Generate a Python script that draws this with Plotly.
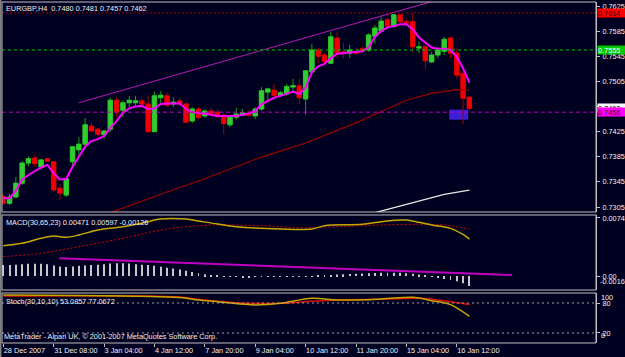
import plotly.graph_objects as go

# ---------------- data ----------------
symbol_title = "EURGBP,H4  0.7480 0.7481 0.7457 0.7462"
macd_title = "MACD(30,65,23) 0.00471 0.00597 -0.00126"
stoch_title = "Stoch(30,10,10) 53.0857 77.0672"
footer_text = "MetaTrader - Alpari UK, \u00a9 2001-2007 MetaQuotes Software Corp."

opens = [0.7322, 0.7311, 0.7321, 0.7343, 0.7375, 0.7383, 0.7369, 0.7382, 0.7377, 0.7335,
         0.7324, 0.7377, 0.7396, 0.7405, 0.7434, 0.7429, 0.7420, 0.7429, 0.7475, 0.7459,
         0.7471, 0.7471, 0.7474, 0.7469, 0.7425, 0.7479, 0.7482, 0.7469, 0.7474, 0.7469,
         0.7442, 0.7461, 0.7450, 0.7458, 0.7456, 0.7451, 0.7436, 0.7448, 0.7451, 0.7455,
         0.7450, 0.7461, 0.7488, 0.7491, 0.7483, 0.7485, 0.7496, 0.7498, 0.7477, 0.7520,
         0.7555, 0.7547, 0.7534, 0.7574, 0.7552, 0.7550, 0.7552, 0.7557, 0.7555, 0.7577,
         0.7585, 0.7603, 0.7592, 0.7611, 0.7600, 0.7600, 0.7558, 0.7560, 0.7536, 0.7547,
         0.7553, 0.7574, 0.7550, 0.7518, 0.7480]
highs = [0.7327, 0.7326, 0.7353, 0.7378, 0.7386, 0.7388, 0.7382, 0.7383, 0.7378, 0.7342,
         0.7351, 0.7402, 0.7416, 0.7447, 0.7439, 0.7431, 0.7428, 0.7479, 0.7480, 0.7475,
         0.7482, 0.7482, 0.7479, 0.7483, 0.7489, 0.7490, 0.7488, 0.7480, 0.7479, 0.7472,
         0.7464, 0.7464, 0.7460, 0.7464, 0.7461, 0.7455, 0.7451, 0.7463, 0.7461, 0.7460,
         0.7464, 0.7496, 0.7495, 0.7501, 0.7490, 0.7501, 0.7509, 0.7509, 0.7523, 0.7565,
         0.7558, 0.7550, 0.7584, 0.7584, 0.7566, 0.7563, 0.7558, 0.7561, 0.7582, 0.7595,
         0.7608, 0.7606, 0.7612, 0.7612, 0.7604, 0.7614, 0.7569, 0.7563, 0.7552, 0.7558,
         0.7576, 0.7576, 0.7558, 0.7523, 0.7481]
lows = [0.7308, 0.7308, 0.7319, 0.7340, 0.7370, 0.7369, 0.7364, 0.7377, 0.7329, 0.7316,
        0.7321, 0.7370, 0.7388, 0.7401, 0.7425, 0.7416, 0.7413, 0.7425, 0.7448, 0.7448,
        0.7464, 0.7466, 0.7467, 0.7423, 0.7424, 0.7471, 0.7464, 0.7464, 0.7466, 0.7439,
        0.7439, 0.7444, 0.7447, 0.7450, 0.7448, 0.7420, 0.7432, 0.7444, 0.7450, 0.7448,
        0.7445, 0.7458, 0.7475, 0.7480, 0.7480, 0.7482, 0.7487, 0.7469, 0.7452, 0.7518,
        0.7534, 0.7534, 0.7533, 0.7542, 0.7542, 0.7542, 0.7547, 0.7550, 0.7552, 0.7565,
        0.7584, 0.7592, 0.7592, 0.7598, 0.7595, 0.7552, 0.7550, 0.7525, 0.7534, 0.7542,
        0.7547, 0.7542, 0.7510, 0.7437, 0.7457]
closes = [0.7311, 0.7321, 0.7343, 0.7375, 0.7382, 0.7374, 0.7380, 0.7378, 0.7332, 0.7327,
          0.7350, 0.7401, 0.7405, 0.7436, 0.7426, 0.7421, 0.7426, 0.7475, 0.7456, 0.7471,
          0.7475, 0.7474, 0.7469, 0.7425, 0.7482, 0.7483, 0.7467, 0.7472, 0.7469, 0.7440,
          0.7461, 0.7448, 0.7458, 0.7453, 0.7449, 0.7438, 0.7448, 0.7453, 0.7455, 0.7451,
          0.7461, 0.7490, 0.7493, 0.7483, 0.7487, 0.7497, 0.7498, 0.7479, 0.7522, 0.7555,
          0.7545, 0.7537, 0.7576, 0.7550, 0.7549, 0.7555, 0.7550, 0.7554, 0.7579, 0.7590,
          0.7601, 0.7593, 0.7611, 0.7600, 0.7598, 0.7560, 0.7560, 0.7538, 0.7547, 0.7555,
          0.7572, 0.7550, 0.7515, 0.7478, 0.7462]

# fast moving average (magenta), one value per bar
ma_fast = [0.7319, 0.7319, 0.7331, 0.7349, 0.7356, 0.7362, 0.7368, 0.7372, 0.7359, 0.7349,
           0.7350, 0.7369, 0.7386, 0.7401, 0.7410, 0.7413, 0.7418, 0.7431, 0.7442, 0.7455,
           0.7462, 0.7465, 0.7466, 0.7461, 0.7462, 0.7469, 0.7470, 0.7470, 0.7470, 0.7461,
           0.7456, 0.7455, 0.7454, 0.7452, 0.7450, 0.7450, 0.7450, 0.7450, 0.7452, 0.7454,
           0.7458, 0.7469, 0.7474, 0.7479, 0.7482, 0.7486, 0.7489, 0.7485, 0.7495, 0.7520,
           0.7529, 0.7533, 0.7542, 0.7549, 0.7550, 0.7551, 0.7552, 0.7553, 0.7559, 0.7576,
           0.7585, 0.7591, 0.7593, 0.7596, 0.7596, 0.7588, 0.7575, 0.7567, 0.7559, 0.7557,
           0.7557, 0.7555, 0.7544, 0.7526, 0.7503]
# slow moving average (dark red), read at selected bars
ma_slow_bars = [17, 20, 24, 28, 32, 36, 40, 44, 48, 52, 56, 60, 64, 68, 70, 72, 74]
ma_slow = [0.7296, 0.7307, 0.7322, 0.7336, 0.7350, 0.7366, 0.7381, 0.7394, 0.7407,
           0.7423, 0.7439, 0.7457, 0.7475, 0.7486, 0.7489, 0.7492, 0.7491]
# longest moving average (white)
ma_long_bars = [59, 62, 66, 70, 74]
ma_long = [0.7296, 0.7304, 0.7315, 0.7325, 0.7332]

# upper channel trendline and rectangle object
trend_bars = [12, 68]
trend_prices = [0.7471, 0.7632]
box_bars = [70.8, 73.8]
box_prices = [0.7444, 0.7460]

# horizontal levels
level_red = 0.7614
level_green = 0.7555
level_magenta = 0.7456
bid_price = 0.7462

price_ticks = [0.7305, 0.7345, 0.7385, 0.7425, 0.7465, 0.7505, 0.7545, 0.7585, 0.7625]

time_labels = ["28 Dec 2007", "31 Dec 08:00", "3 Jan 04:00", "4 Jan 12:00", "7 Jan 20:00",
               "9 Jan 04:00", "10 Jan 12:00", "11 Jan 20:00", "15 Jan 04:00", "16 Jan 12:00"]
bars_per_label = 8

# MACD
macd_main_bars = [0, 3, 6, 8, 10, 12, 15, 19, 22, 25, 29, 31, 34, 37, 44, 49, 51, 57,
                  60, 63, 64, 66, 68, 71, 73, 74]
macd_main = [0.00387, 0.00417, 0.00481, 0.00510, 0.00494, 0.00523, 0.00587, 0.00629,
             0.00672, 0.00727, 0.00727, 0.00702, 0.00663, 0.00629, 0.00600, 0.00600,
             0.00642, 0.00660, 0.00693, 0.00714, 0.00714, 0.00685, 0.00651, 0.00608,
             0.00530, 0.00471]
macd_sig_bars = [0, 6, 12, 19, 25, 31, 34, 41, 47, 53, 60, 66, 70, 74]
macd_sig = [0.00247, 0.00290, 0.00374, 0.00481, 0.00587, 0.00642, 0.00651, 0.00642,
            0.00616, 0.00629, 0.00651, 0.00660, 0.00651, 0.00597]
macd_hist = [0.00140, 0.00140, 0.00145, 0.00150, 0.00155, 0.00155, 0.00155, 0.00150, 0.00135, 0.00120,
             0.00115, 0.00120, 0.00130, 0.00135, 0.00140, 0.00145, 0.00150, 0.00160, 0.00162, 0.00162,
             0.00158, 0.00150, 0.00145, 0.00140, 0.00130, 0.00118, 0.00106, 0.00095, 0.00082, 0.00068,
             0.00050, 0.00038, 0.00022, 0.00012, 0.00004, -0.00002, -0.00008, -0.00012, -0.00015, -0.00015,
             -0.00012, -0.00010, -0.00010, -0.00010, -0.00008, -0.00008, -0.00006, -0.00006, -0.00005, -0.00003,
             0.00002, 0.00008, 0.00012, 0.00018, 0.00022, 0.00026, 0.00030, 0.00032, 0.00035, 0.00038,
             0.00040, 0.00042, 0.00042, 0.00040, 0.00036, 0.00030, 0.00020, 0.00005, -0.00010, -0.00025,
             -0.00038, -0.00050, -0.00068, -0.00092, -0.00126]
macd_trend_bars = [8.9, 80.8]
macd_trend_vals = [0.00226, 0.00013]
macd_ticks = [0.0074, 0.0]
macd_tick_text = ["0.0074", "0.00"]
macd_min_label = "-0.00168"

# Stochastic
stoch_main_bars = [0, 19, 28, 31, 34, 40, 44, 49, 53, 60, 65, 68, 71, 74]
stoch_main = [96, 94, 91, 86, 82.7, 76, 79.3, 89.3, 86, 88, 91.3, 84.7, 76.7, 53.0857]
stoch_sig_bars = [0, 28, 31, 37, 44, 48, 53, 60, 66, 69, 74]
stoch_sig = [94, 92, 87.3, 80.7, 79.3, 82.7, 86, 87.3, 89.3, 86, 77.0672]
stoch_levels = [80, 20]

# ---------------- styling ----------------
BG = "#000020"
FRAME = "#c0c0c0"
TXT = "#f0f0f0"
FONT = "Liberation Sans"
FS = 7.3

bars = list(range(len(opens)))
body_hi = [max(o, c) for o, c in zip(opens, closes)]
body_lo = [min(o, c) for o, c in zip(opens, closes)]

fig = go.Figure()

# wicks
fig.add_trace(go.Candlestick(
    x=bars, open=opens, high=highs, low=lows, close=closes,
    increasing=dict(line=dict(color="#14a014", width=1), fillcolor="#14a014"),
    decreasing=dict(line=dict(color="#a00000", width=1), fillcolor="#a00000"),
    whiskerwidth=0, hoverinfo="skip", xaxis="x", yaxis="y"))
# bodies
fig.add_trace(go.Candlestick(
    x=bars, open=opens, high=body_hi, low=body_lo, close=closes,
    increasing=dict(line=dict(color="#30cc30", width=0.6), fillcolor="#30cc30"),
    decreasing=dict(line=dict(color="#f00000", width=0.6), fillcolor="#f00000"),
    whiskerwidth=0, hoverinfo="skip", xaxis="x", yaxis="y"))

fig.add_trace(go.Scatter(x=ma_slow_bars, y=ma_slow, mode="lines",
                         line=dict(color="#9a0000", width=1.2), yaxis="y"))
fig.add_trace(go.Scatter(x=ma_long_bars, y=ma_long, mode="lines",
                         line=dict(color="#e8e8e8", width=1.3), yaxis="y"))
fig.add_trace(go.Scatter(x=bars, y=ma_fast, mode="lines",
                         line=dict(color="#ff00ff", width=2), yaxis="y"))
fig.add_trace(go.Scatter(x=trend_bars, y=trend_prices, mode="lines",
                         line=dict(color="#b818b8", width=1), yaxis="y"))

# MACD panel
fig.add_trace(go.Bar(x=bars, y=macd_hist, width=0.15, marker=dict(color="#c8c8c8", line=dict(width=0)),
                     yaxis="y2"))
fig.add_trace(go.Scatter(x=macd_trend_bars, y=macd_trend_vals, mode="lines",
                         line=dict(color="#c000c0", width=2), yaxis="y2"))
fig.add_trace(go.Scatter(x=macd_sig_bars, y=macd_sig, mode="lines", line_shape="spline",
                         line=dict(color="#e00000", width=1, dash="2px,2px"), yaxis="y2"))
fig.add_trace(go.Scatter(x=macd_main_bars, y=macd_main, mode="lines", line_shape="spline",
                         line=dict(color="#c8a800", width=1.5), yaxis="y2"))

# Stochastic panel
fig.add_trace(go.Scatter(x=stoch_sig_bars, y=stoch_sig, mode="lines", line_shape="spline",
                         line=dict(color="#e01000", width=1.5), yaxis="y3"))
fig.add_trace(go.Scatter(x=stoch_main_bars, y=stoch_main, mode="lines", line_shape="spline",
                         line=dict(color="#c8a800", width=1.5), yaxis="y3"))

shapes = []
shapes.append(dict(type="rect", xref="x", yref="y", x0=box_bars[0], x1=box_bars[1],
                   y0=box_prices[0], y1=box_prices[1], fillcolor="#3c1ed8",
                   line=dict(width=0), layer="below"))
for lvl, col, dash in [(level_red, "#a00000", "2px,2px"), (level_green, "#00c800", "3px,3px"),
                       (level_magenta, "#c000c0", "4px,3px")]:
    shapes.append(dict(type="line", xref="x domain", yref="y", x0=0, x1=1, y0=lvl, y1=lvl,
                       line=dict(color=col, width=1, dash=dash)))
for lvl in stoch_levels:
    shapes.append(dict(type="line", xref="x domain", yref="y3", x0=0, x1=1, y0=lvl, y1=lvl,
                       line=dict(color="#a0a0a0", width=1, dash="2px,3px")))
# panel frames
for ax in ["y", "y2", "y3"]:
    shapes.append(dict(type="rect", xref="x domain", yref=ax + " domain", x0=0, x1=1, y0=0, y1=1,
                       line=dict(color=FRAME, width=1), fillcolor="rgba(0,0,0,0)"))
# window edge
shapes.append(dict(type="line", xref="paper", yref="paper", x0=-0.0025, x1=-0.0025, y0=-0.05, y1=1.01,
                   line=dict(color="#808080", width=2)))

annotations = []
def txt(text, xref, yref, x, y, xanchor, yanchor, xshift=0, yshift=0):
    annotations.append(dict(text=text, xref=xref, yref=yref, x=x, y=y, xanchor=xanchor,
                            yanchor=yanchor, xshift=xshift, yshift=yshift, showarrow=False,
                            borderpad=0,
                            font=dict(family=FONT, size=FS, color=TXT)))

txt(symbol_title, "x domain", "y domain", 0, 1, "left", "top", xshift=3, yshift=-1)
txt(macd_title, "x domain", "y2 domain", 0, 1, "left", "top", xshift=3, yshift=-2)
txt(stoch_title, "x domain", "y3 domain", 0, 1, "left", "top", xshift=3, yshift=-3)
txt(footer_text, "x domain", "y3 domain", 0, 0, "left", "bottom", xshift=1, yshift=1)
txt(macd_min_label, "paper", "y2 domain", 1, 0, "left", "bottom", xshift=3, yshift=3)
txt("100", "paper", "y3 domain", 1, 1, "left", "top", xshift=4, yshift=1)
txt("0", "paper", "y3 domain", 1, 0, "left", "bottom", xshift=4, yshift=2)

def price_box(value, bg, fg):
    annotations.append(dict(text="%.4f" % value, xref="paper", yref="y", x=1, y=value,
                            xanchor="left", yanchor="middle", xshift=1, showarrow=False,
                            bgcolor=bg, borderpad=0, width=28, height=8, align="left",
                            font=dict(family=FONT, size=FS, color=fg)))

price_box(level_red, "#ff0000", "#300000")
price_box(level_green, "#00c800", "#ffffff")
price_box(bid_price, "#ffffff", "#000000")
price_box(level_magenta, "#ff00ff", "#300030")

axis_common = dict(showgrid=False, zeroline=False, showline=True, linecolor=FRAME,
                   ticks="outside", ticklen=3, tickcolor=FRAME, side="right", anchor="x",
                   automargin=False, ticklabelstandoff=1,
                   tickfont=dict(family=FONT, size=FS, color=TXT), fixedrange=True)

fig.update_layout(
    width=625, height=357,
    margin=dict(l=2, r=29, t=2, b=14),
    paper_bgcolor=BG, plot_bgcolor=BG,
    showlegend=False, hovermode=False,
    boxgap=0.3, boxgroupgap=0,
    barmode="overlay",
    xaxis=dict(range=[-0.2, 94.1], anchor="y3", showgrid=False, zeroline=False, showline=False,
               rangeslider=dict(visible=False), automargin=False, tickangle=0,
               tickvals=[k * bars_per_label for k in range(len(time_labels))],
               ticktext=time_labels, ticks="outside", ticklen=3, tickcolor=FRAME,
               ticklabelposition="outside right", ticklabelstandoff=0,
               tickfont=dict(family=FONT, size=FS, color=TXT)),
    yaxis=dict(domain=[0.3842, 1], range=[0.72971, 0.76314], tickvals=price_ticks,
               ticktext=["%.4f" % v for v in price_ticks], **axis_common),
    yaxis2=dict(domain=[0.1554, 0.3754], range=[-0.001786, 0.007783], tickvals=macd_ticks,
                ticktext=macd_tick_text, **axis_common),
    yaxis3=dict(domain=[0, 0.1466], range=[0, 100], tickvals=stoch_levels,
                ticktext=[str(v) for v in stoch_levels], **axis_common),
    shapes=shapes, annotations=annotations,
)

fig.write_html("out.html")
